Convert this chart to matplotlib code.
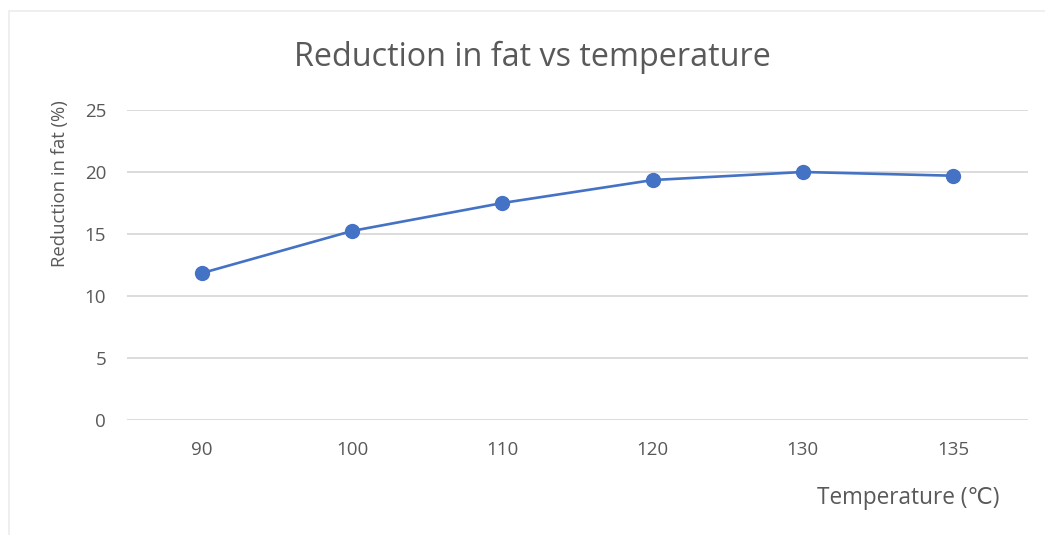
import matplotlib.pyplot as plt
from matplotlib.patches import Rectangle

# data
temperatures = ["90", "100", "110", "120", "130", "135"]
fat_reduction = [11.85, 15.25, 17.5, 19.35, 20.0, 19.7]
y_ticks = [0, 5, 10, 15, 20, 25]

TEXT = "#595959"
GRID = "#d9d9d9"
BLUE = "#4472c4"

plt.rcParams["font.family"] = ["Open Sans", "DejaVu Sans"]

fig = plt.figure(figsize=(10.45, 5.35), dpi=100)
ax = fig.add_axes([127 / 1045, 1 - 420 / 535, (1028 - 127) / 1045, 310 / 535])

# faint chart-area frame
fig.patches.append(Rectangle((9 / 1045, -0.05), 1.1, 1 - 11 / 535 + 0.05,
                             transform=fig.transFigure, fill=False,
                             edgecolor="#ececec", linewidth=1.2))

x = list(range(len(temperatures)))
ax.plot(x, fat_reduction, color=BLUE, linewidth=1.9, marker="o",
        markersize=10, zorder=3)

ax.set_xlim(-0.5, len(temperatures) - 0.5)
ax.set_ylim(0, 25)
ax.set_yticks(y_ticks)
ax.set_xticks(x)
ax.set_xticklabels(temperatures)
ax.yaxis.grid(True, color=GRID, linewidth=1.3)
ax.set_axisbelow(True)
for s in ax.spines.values():
    s.set_visible(False)
ax.tick_params(length=0, labelsize=13.5, labelcolor=TEXT)
ax.tick_params(axis="x", pad=15)
ax.tick_params(axis="y", pad=15)

fig.text(0.5 * (293 + 772) / 1045, 1 - 57 / 535, "Reduction in fat vs temperature",
         ha="center", va="center", fontsize=23.3, color=TEXT)
fig.text(908 / 1045, 1 - 498 / 535, "Temperature (\u2103)",
         ha="center", va="center", fontsize=16.3, color=TEXT)
fig.text(60 / 1045, 1 - 184 / 535, "Reduction in fat (%)", rotation=90,
         ha="center", va="center", fontsize=13.3, color=TEXT)

fig.savefig("out.png", dpi=100, facecolor="white")
